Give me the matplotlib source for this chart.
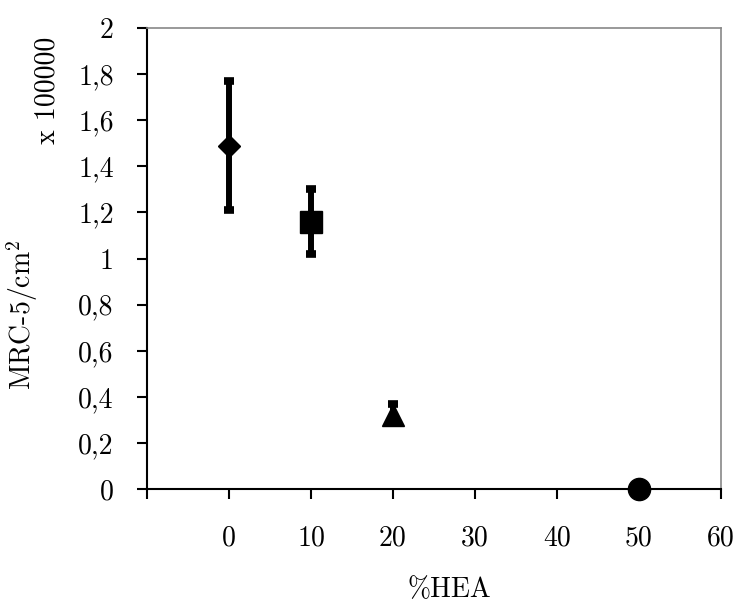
import matplotlib
matplotlib.use('Agg')
import matplotlib.pyplot as plt

plt.rcParams['font.family'] = 'cmr10'
plt.rcParams['mathtext.fontset'] = 'cm'
plt.rcParams['axes.unicode_minus'] = False

hea = [0, 10, 20, 50]
mrc = [1.49, 1.16, 0.32, 0.0]
err_low = [0.28, 0.14, 0.03, 0.0]
err_high = [0.28, 0.14, 0.05, 0.0]
markers = ['D', 's', '^', 'o']
msizes = [11.5, 16, 16, 16]

xticks = [-10, 0, 10, 20, 30, 40, 50, 60]
xticklabels = ['', '0', '10', '20', '30', '40', '50', '60']
yticks = [0, 0.2, 0.4, 0.6, 0.8, 1.0, 1.2, 1.4, 1.6, 1.8, 2.0]
yticklabels = ['0', '0,2', '0,4', '0,6', '0,8', '1', '1,2', '1,4', '1,6', '1,8', '2']

fig = plt.figure(figsize=(7.4, 6.05), dpi=100)
ax = fig.add_axes([147 / 740, 1 - 489 / 605, (721 - 147) / 740, (489 - 28) / 605])

for x, y, lo, hi, m, s in zip(hea, mrc, err_low, err_high, markers, msizes):
    if hi > 0:
        ax.errorbar(x, y, yerr=[[lo], [hi]], fmt='none', ecolor='black', elinewidth=4.3,
                    capsize=3.5, capthick=5.5, clip_on=False)
    ax.plot(x, y, marker=m, markersize=s, color='black', linestyle='none',
            clip_on=False, zorder=5)

ax.set_xlim(-10, 60)
ax.set_ylim(0, 2)
ax.set_xticks(xticks)
ax.set_xticklabels(xticklabels)
ax.set_yticks(yticks)
ax.set_yticklabels(yticklabels)
ax.tick_params(axis='both', direction='out', length=7, width=1.5, labelsize=20)
ax.tick_params(axis='y', pad=17)
ax.tick_params(axis='x', pad=19)

for side in ['left', 'bottom']:
    ax.spines[side].set_color('black')
    ax.spines[side].set_linewidth(1.5)
for side in ['top', 'right']:
    ax.spines[side].set_color('#888888')
    ax.spines[side].set_linewidth(1.2)

fig.text(22 / 740, 1 - 315 / 605, r'MRC-5/cm$^2$', rotation=90, fontsize=20,
         ha='center', va='center')
fig.text(47 / 740, 1 - 90 / 605, 'x 100000', rotation=90, fontsize=20,
         ha='center', va='center')
fig.text(449 / 740, 1 - 590 / 605, '%HEA', fontsize=20, ha='center', va='center')

fig.savefig('out.png', dpi=100)
